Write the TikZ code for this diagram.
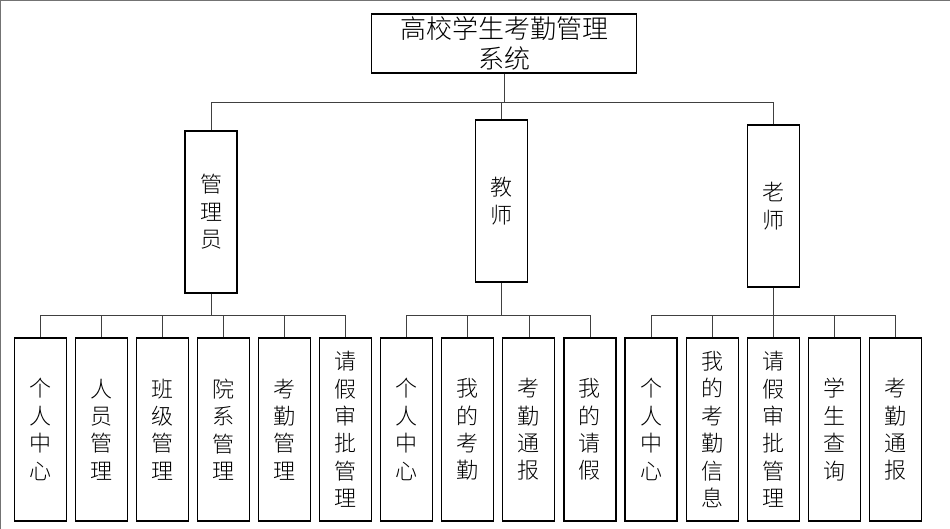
\documentclass[tikz,border=0pt]{standalone}
\usepackage{fontspec}
\setmainfont{Noto Sans CJK SC}[UprightFont=* Light]
\usetikzlibrary{calc}

\tikzset{
 box/.style={draw=black, line width=1.1pt, minimum width=52pt, inner sep=0pt, align=center, font=\fontsize{22}{27.4}\selectfont},
 leaf/.style={box, minimum height=183pt},
 role/.style={box, minimum height=162pt},
 link/.style={draw=black!75, line width=0.8pt},
}

\begin{document}
\begin{tikzpicture}[x=1pt,y=-1pt]
\useasboundingbox (0,0) rectangle (950,529);
\draw[black!55, line width=1pt] (0.5,529) -- (0.5,0.5) -- (950,0.5);
% root
\node[box, minimum width=265pt, minimum height=59pt, font=\fontsize{26}{30}\selectfont] (sys) at (504,43.5) {高校学生考勤管理\\系统};
% roles
\node[role] (admin) at (211,212) {管\\理\\员};
\node[role] (teach) at (501.5,201) {教\\师};
\node[role] (tutor) at (773.5,206) {老\\师};
\coordinate (top) at (504,102);
\draw[link] (sys.south) -- (top);
\foreach \r in {admin,teach,tutor}
 \draw[link] (\r.north) |- (top);
% leaves
\foreach \t [count=\i] in {{个\\人\\中\\心},{人\\员\\管\\理},{班\\级\\管\\理},{院\\系\\管\\理},{考\\勤\\管\\理},{请\\假\\审\\批\\管\\理},
 {个\\人\\中\\心},{我\\的\\考\\勤},{考\\勤\\通\\报},{我\\的\\请\\假},
 {个\\人\\中\\心},{我\\的\\考\\勤\\信\\息},{请\\假\\审\\批\\管\\理},{学\\生\\查\\询},{考\\勤\\通\\报}}
 \node[leaf] (l\i) at ({40.5+61.05*(\i-1)},429.5) {\t};
\coordinate (b1) at (211,315);
\coordinate (b2) at (501.5,315);
\coordinate (b3) at (773.5,315);
\draw[link] (admin.south) -- (b1);
\draw[link] (teach.south) -- (b2);
\draw[link] (tutor.south) -- (b3);
\foreach \i in {1,...,6} \draw[link] (l\i.north) |- (b1);
\foreach \i in {7,...,10} \draw[link] (l\i.north) |- (b2);
\foreach \i in {11,...,15} \draw[link] (l\i.north) |- (b3);
\end{tikzpicture}
\end{document}
